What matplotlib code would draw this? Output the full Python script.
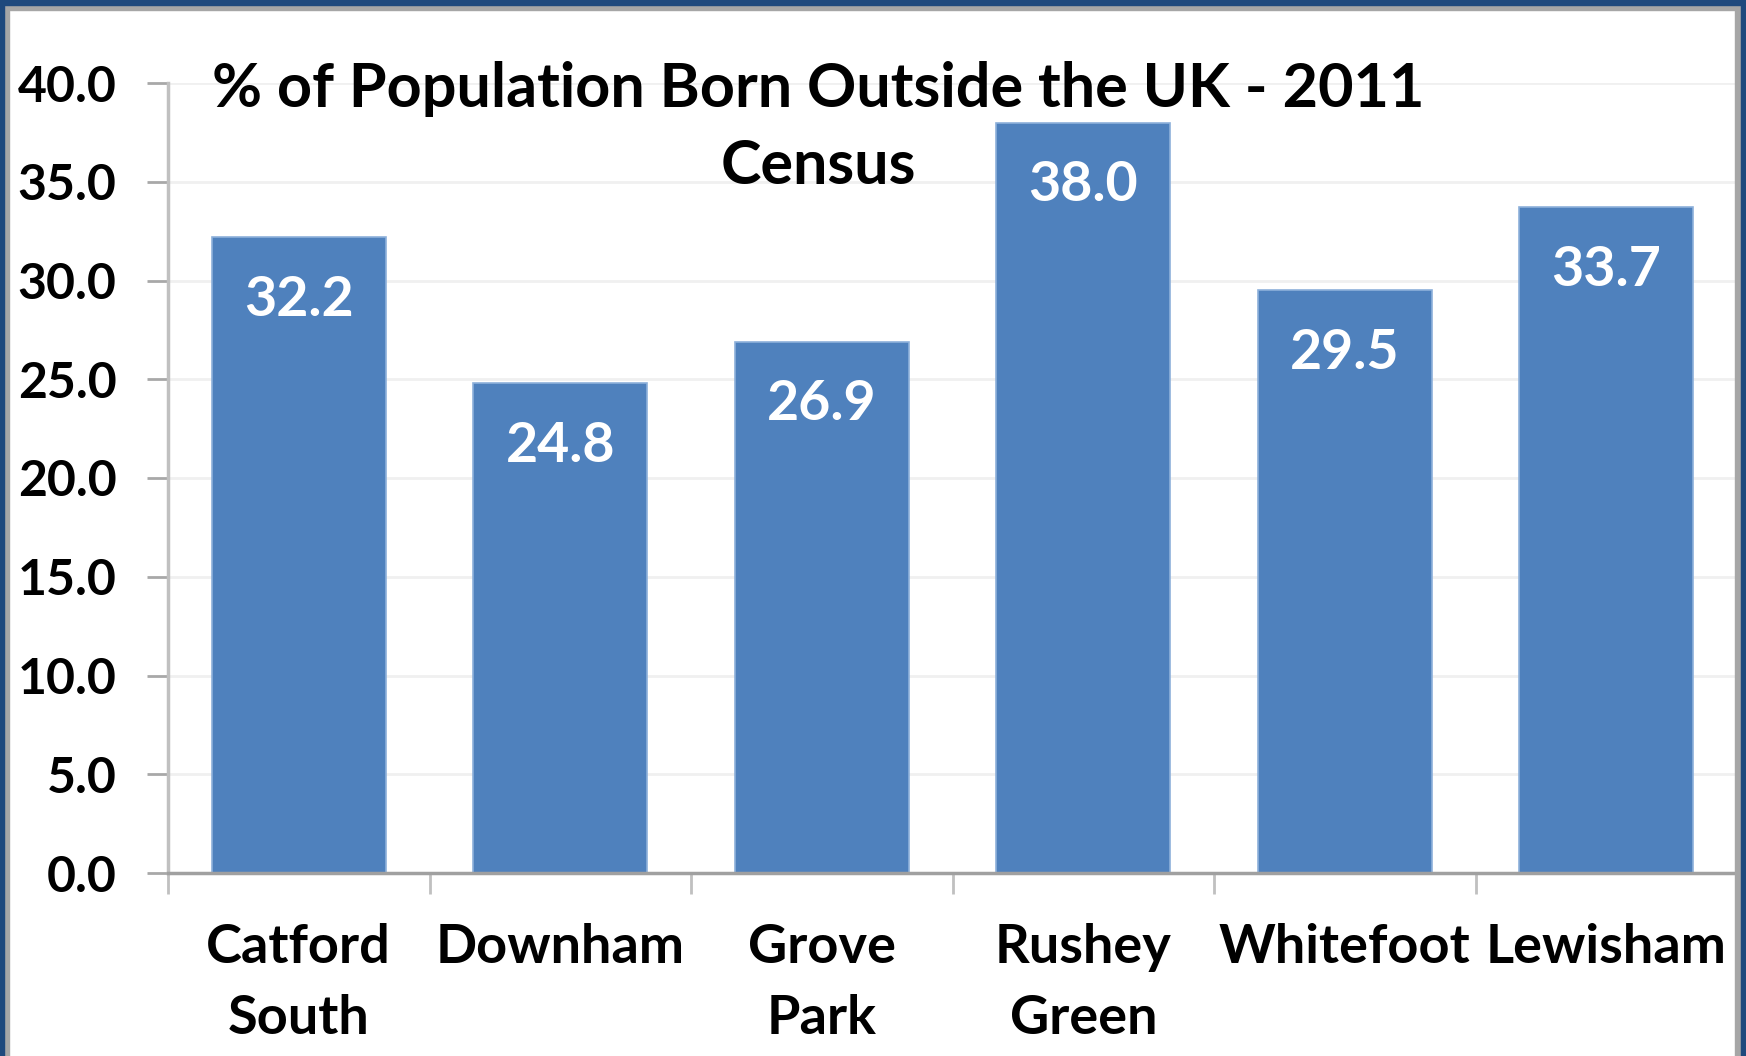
import matplotlib
matplotlib.use("Agg")
import matplotlib.pyplot as plt
from matplotlib.patches import Rectangle
from matplotlib.ticker import FixedLocator, MultipleLocator, FormatStrFormatter

categories = ["Catford\nSouth", "Downham", "Grove\nPark", "Rushey\nGreen", "Whitefoot", "Lewisham"]
values = [32.2, 24.8, 26.9, 38.0, 29.5, 33.7]
title_lines = ["% of Population Born Outside the UK - 2011", "Census"]

plt.rcParams['font.family'] = ['Lato', 'DejaVu Sans']

W, H = 1746, 1056
fig = plt.figure(figsize=(W / 100, H / 100), dpi=100)
fig.patch.set_facecolor('white')

ax = fig.add_axes([168 / W, 1 - 873 / H, (1737 - 168) / W, (873 - 83) / H])
x = list(range(len(categories)))
bars = ax.bar(x, values, width=0.665, color='#4F81BD', edgecolor='#8DB0DA', linewidth=1.2, zorder=3)

ax.set_xlim(-0.5, len(categories) - 0.5)
ax.set_ylim(0, 40)
ax.yaxis.set_major_locator(MultipleLocator(5))
ax.yaxis.set_major_formatter(FormatStrFormatter('%.1f'))
ax.set_xticks(x)
ax.set_xticklabels(categories, fontsize=39, linespacing=1.55, fontweight='bold')
ax.xaxis.set_minor_locator(FixedLocator([i - 0.5 for i in range(len(categories) + 1)]))
ax.tick_params(axis='x', which='major', length=0, pad=36)
ax.tick_params(axis='x', which='minor', length=15, width=2, color='#C0C0C0')
ax.tick_params(axis='y', which='major', length=15, width=2, color='#A8A8A8', pad=22, labelsize=36)
for lab in ax.get_yticklabels():
    lab.set_fontweight('bold')

ax.grid(axis='y', color='#F0F0F0', linewidth=2, zorder=0)
ax.set_axisbelow(True)
for s in ['top', 'right']:
    ax.spines[s].set_visible(False)
ax.spines['left'].set_color('#C0C0C0')
ax.spines['left'].set_linewidth(2.5)
ax.spines['bottom'].set_color('#A0A0A0')
ax.spines['bottom'].set_linewidth(2.5)
ax.spines['bottom'].set_zorder(4)

for xi, v in zip(x, values):
    ax.annotate(f"{v:.1f}", xy=(xi, v), xytext=(0, -45), textcoords='offset points',
                ha='center', va='center', color='white', fontsize=40, fontweight='bold', zorder=5)

fig.text(818 / W, 1 - 89 / H, title_lines[0], ha='center', va='center', fontsize=44,
         fontweight='bold', color='black')
fig.text(818 / W, 1 - 166 / H, title_lines[1], ha='center', va='center', fontsize=44,
         fontweight='bold', color='black')

# figure border
fig.add_artist(Rectangle((0, 1 - 10 / H), 1, 10 / H, transform=fig.transFigure, color='#A6A6A6', zorder=10))
fig.add_artist(Rectangle((0, 0), 9 / W, 1, transform=fig.transFigure, color='#A6A6A6', zorder=10))
fig.add_artist(Rectangle((1 - 11 / W, 0), 11 / W, 1, transform=fig.transFigure, color='#A6A6A6', zorder=10))
fig.add_artist(Rectangle((0, 1 - 5 / H), 1, 5 / H, transform=fig.transFigure, color='#1F497D', zorder=11))
fig.add_artist(Rectangle((0, 0), 4 / W, 1, transform=fig.transFigure, color='#1F497D', zorder=11))
fig.add_artist(Rectangle((1 - 5 / W, 0), 5 / W, 1, transform=fig.transFigure, color='#1F497D', zorder=11))

fig.savefig('out.png', dpi=100)
